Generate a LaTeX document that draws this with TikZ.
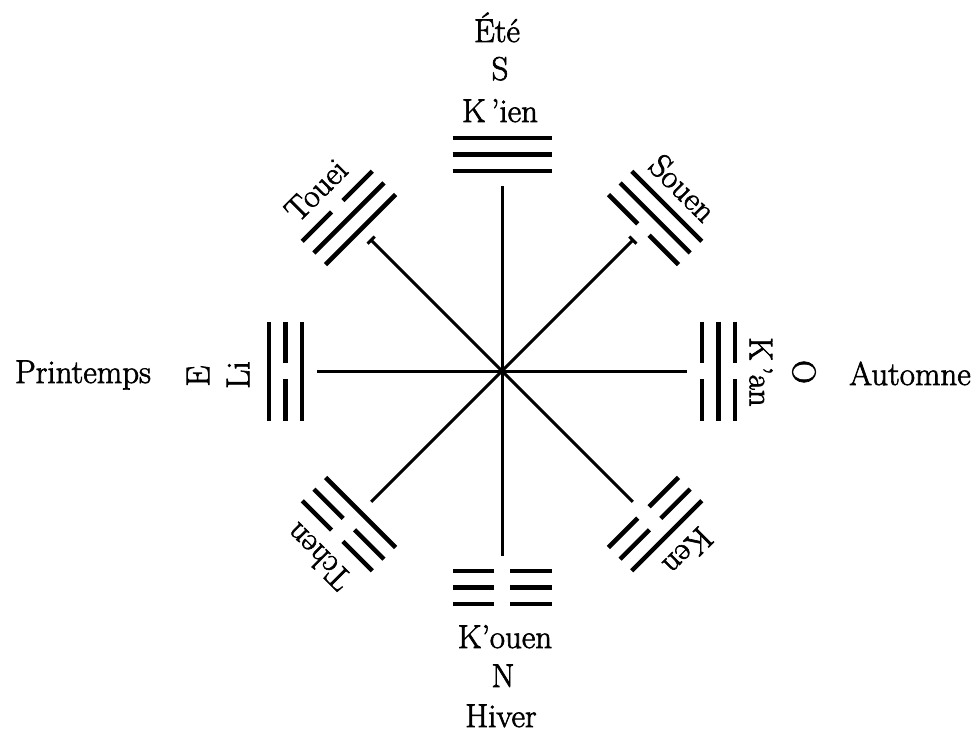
\documentclass[tikz,border=0pt]{standalone}
\usepackage{fontspec}
\newfontfamily\heavyfont{Latin Modern Roman}[FakeBold=2]
\begin{document}
\begin{tikzpicture}[x=1pt,y=1pt,
  lbl/.style={inner sep=0pt,font=\heavyfont\fontsize{33}{38}\selectfont},
  bar/.style={line width=4.5pt},
  spoke/.style={line width=3pt},
  tick/.style={line width=3pt}]
\useasboundingbox (-502,-360) rectangle (474,371);
\coordinate (c) at (0,0);
% trigrams: angle / inner / middle / outer (1 = solid, 0 = broken)
\foreach \a/\i/\m/\o in {90/1/1/1, 45/0/1/1, 0/0/1/0, -45/0/0/1,
                          -90/0/0/0, -135/1/0/0, 180/1/0/1, 135/1/1/0}{
  \coordinate (e\a) at (\a:185);
  \draw[spoke] (c) -- (e\a);
  \begin{scope}[rotate=\a-90]
    \foreach \t/\r in {\i/200,\m/216.5,\o/233}{
      \ifnum\t=1
        \draw[bar] (-49.5,\r) -- (49.5,\r);
      \else
        \draw[bar] (-49.5,\r) -- (-8,\r);
        \draw[bar] (8,\r) -- (49.5,\r);
      \fi
    }
  \end{scope}
}
% small end bars on the two upper diagonal spokes
\draw[tick] ([shift={(45:5)}]e135) -- ([shift={(-135:5)}]e135);
\draw[tick] ([shift={(135:5)}]e45) -- ([shift={(-45:5)}]e45);
\fill (c) circle (3.5);
% top
\node[lbl,anchor=base] (ete) at (-5,329) {Été};
\node[lbl,anchor=base] (s) at (-2,291) {S};
\node[lbl,anchor=base] (kien) at (-2,249) {K\,’ien};
% bottom
\node[lbl,anchor=base] (kouen) at (3,-277) {K’ouen};
\node[lbl,anchor=base] (n) at (1,-316) {N};
\node[lbl,anchor=base] (hiver) at (-1,-356) {Hiver};
% left
\node[lbl,anchor=base] (printemps) at (-419,-12) {Printemps};
\node[lbl,rotate=90] (e) at (-304,-5) {E};
\node[lbl,rotate=90] (li) at (-264,-4) {Li};
% right
\node[lbl,anchor=base] (automne) at (408,-14) {Automne};
\node[lbl,rotate=-90] (o) at (302,-1) {O};
\node[lbl,rotate=-90] (kan) at (259,-1) {K\,’an};
% diagonals
\node[lbl,rotate=45] (touei) at (-186,181) {Touei};
\node[lbl,rotate=-45] (souen) at (181,183) {Souen};
\node[lbl,rotate=135] (tchen) at (-184,-186) {Tchen};
\node[lbl,rotate=-135] (ken) at (186,-181) {Ken};
\end{tikzpicture}
\end{document}
